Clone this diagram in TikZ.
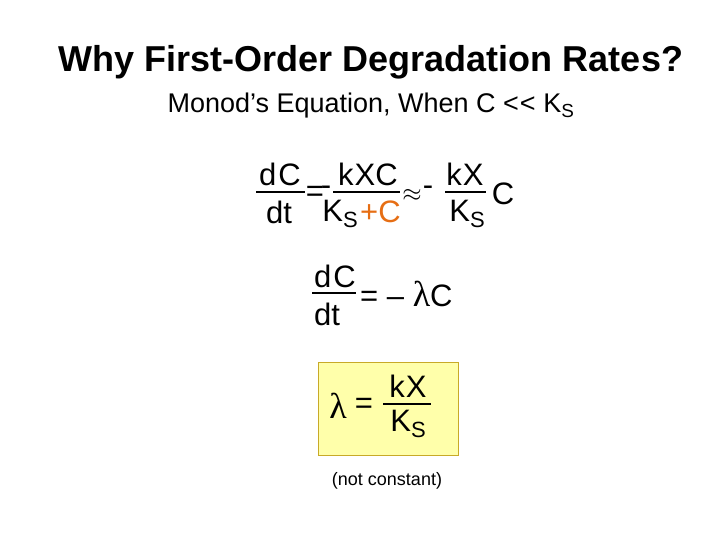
\documentclass[tikz,border=0pt]{standalone}
\usepackage{fontspec}
\setmainfont{Liberation Sans}
\newfontfamily\lamfont{Liberation Serif}
\definecolor{boxfill}{RGB}{255,255,170}
\definecolor{boxline}{RGB}{200,170,40}
\definecolor{orng}{RGB}{230,110,20}
\begin{document}
\begin{tikzpicture}[x=1pt,y=-1pt,
  eq/.style={inner sep=0pt,font=\fontsize{31}{34}\selectfont},
  bar/.style={line width=1.2pt}]
\useasboundingbox (0,0) rectangle (720,540);
\node[inner sep=0pt,font=\bfseries\fontsize{36}{40}\selectfont] (title) at (371,62) {Why First-Order Degradation Rates?};
\node[inner sep=0pt,font=\fontsize{27}{30}\selectfont] (sub) at (371,106) {Monod’s Equation, When C <\kern1pt< K\textsubscript{S}};
% equation 1
\node[eq] (n1) at (280,174) {d\kern2ptC};
\node[eq] (d1) at (279,212) {dt};
\coordinate (b1a) at (256,192); \coordinate (b1b) at (305,192);
\draw[bar] (b1a) -- (b1b);
\node[eq] (eq1) at (315,194) {=};
\node[eq] (m1) at (326,191) {-};
\node[eq] (n2) at (368,174) {k\kern1ptXC};
\node[eq,anchor=east] (d2) at (358,214) {K\raisebox{-0.35ex}{\fontsize{22}{24}\selectfont S}};
\node[eq,anchor=west,text=orng] (d2b) at (360,212) {+C};
\coordinate (b2a) at (333,192); \coordinate (b2b) at (400,192);
\draw[bar] (b2a) -- (b2b);
\node[eq] (ap) at (412,195) {$\approx$};
\node[eq] (m2) at (428,191) {-};
\node[eq] (n3) at (465,174) {k\kern1ptX};
\node[eq] (d3) at (467,214) {K\raisebox{-0.35ex}{\fontsize{22}{24}\selectfont S}};
\coordinate (b3a) at (445,192); \coordinate (b3b) at (486,192);
\draw[bar] (b3a) -- (b3b);
\node[eq] (c3) at (503,194) {C};
% equation 2
\node[eq] (n4) at (335,276) {d\kern2ptC};
\node[eq] (d4) at (327,314) {dt};
\coordinate (b4a) at (312,293); \coordinate (b4b) at (356,293);
\draw[bar] (b4a) -- (b4b);
\node[eq,anchor=west] (r4) at (360,294) {= – {\lamfont\fontsize{36}{38}\selectfont λ}C};
% box
\node[draw=boxline,fill=boxfill,line width=1pt,minimum width=140pt,minimum height=93pt,inner sep=0pt] (box) at (388,408.5) {};
\node[eq] (lam) at (338,406) {\lamfont\fontsize{36}{38}\selectfont λ};
\node[eq] (eq5) at (364,406) {=};
\node[eq] (n5) at (408,386) {k\kern1ptX};
\node[eq] (d5) at (408,424) {K\raisebox{-0.35ex}{\fontsize{22}{24}\selectfont S}};
\coordinate (b5a) at (383,404); \coordinate (b5b) at (431,404);
\draw[bar] (b5a) -- (b5b);
\node[inner sep=0pt,font=\fontsize{18}{20}\selectfont] (nc) at (387,481) {(not constant)};
\end{tikzpicture}
\end{document}
